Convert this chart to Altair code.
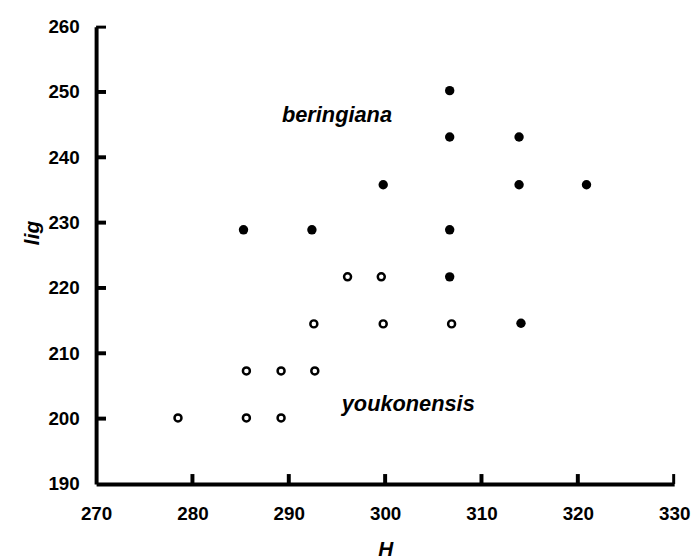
import altair as alt
import pandas as pd

# beringiana (filled circles)
ber_H = [306.7, 306.7, 313.9, 299.8, 313.9, 320.9, 285.3, 292.4, 306.7, 306.7, 314.1]
ber_lig = [250.2, 243.1, 243.1, 235.8, 235.8, 235.8, 228.9, 228.9, 228.9, 221.7, 214.6]

# youkonensis (open circles)
you_H = [296.1, 299.6, 292.6, 299.8, 306.9, 285.6, 289.2, 292.7, 278.5, 285.6, 289.2]
you_lig = [221.7, 221.7, 214.5, 214.5, 214.5, 207.3, 207.3, 207.3, 200.1, 200.1, 200.1]

x_ticks = [270, 280, 290, 300, 310, 320, 330]
y_ticks = [190, 200, 210, 220, 230, 240, 250, 260]

labels = ["beringiana", "youkonensis"]
label_H = [295.0, 302.4]
label_lig = [245.4, 201.1]

X_MIN, X_MAX, Y_MIN, Y_MAX = 270, 330, 190, 260
W, H = 584, 462
TICK_LEN_PX = 10
TICK_W_PX = 4

ber = pd.DataFrame({"H": ber_H, "lig": ber_lig})
you = pd.DataFrame({"H": you_H, "lig": you_lig})
lab = pd.DataFrame({"text": labels, "H": label_H, "lig": label_lig})

# inward tick marks built from the tick values (pixel sizes converted to data units)
ux = (X_MAX - X_MIN) / W
uy = (Y_MAX - Y_MIN) / H
rows = []
for v in x_ticks[1:]:
    rows.append({"a": v - TICK_W_PX / 2 * ux, "a2": min(v + TICK_W_PX / 2 * ux, X_MAX + TICK_W_PX / 4 * ux),
                 "b": Y_MIN, "b2": Y_MIN + TICK_LEN_PX * uy})
for v in y_ticks[1:]:
    rows.append({"a": X_MIN, "a2": X_MIN + TICK_LEN_PX * ux,
                 "b": max(v - TICK_W_PX / 2 * uy, Y_MIN), "b2": min(v + TICK_W_PX / 2 * uy, Y_MAX + TICK_W_PX / 4 * uy)})
ticks = pd.DataFrame(rows)

xs = alt.Scale(domain=[X_MIN, X_MAX], nice=False, zero=False)
ys = alt.Scale(domain=[Y_MIN, Y_MAX], nice=False, zero=False)

FONT = "Liberation Sans"

x_axis = alt.Axis(
    values=x_ticks, format="d", title="H", labelFlush=False, labelOverlap=False,
    labelPadding=21, domainWidth=4, domainColor="black", ticks=False, grid=False,
    titleY=72, titleBaseline="alphabetic",
)
y_axis = alt.Axis(
    values=y_ticks, format="d", title="lig", labelFlush=False, labelOverlap=False,
    labelPadding=17, domainWidth=4, domainColor="black", ticks=False, grid=False,
    titleX=-64, titleY=208, titleAngle=270,
    titleAlign="center", titleBaseline="middle",
)

tick_layer = alt.Chart(ticks).mark_rect(color="black", opacity=1).encode(
    x=alt.X("a:Q", scale=xs, axis=x_axis), x2="a2",
    y=alt.Y("b:Q", scale=ys, axis=y_axis), y2="b2",
)
filled = alt.Chart(ber).mark_circle(size=90, color="black", opacity=1).encode(
    x=alt.X("H:Q", scale=xs), y=alt.Y("lig:Q", scale=ys)
)
opened = alt.Chart(you).mark_point(size=50, filled=False, color="black", strokeWidth=2.5, opacity=1).encode(
    x=alt.X("H:Q", scale=xs), y=alt.Y("lig:Q", scale=ys)
)
texts = alt.Chart(lab).mark_text(
    font=FONT, fontWeight="bold", fontStyle="italic", fontSize=22, color="black",
    align="center", baseline="alphabetic"
).encode(x=alt.X("H:Q", scale=xs), y=alt.Y("lig:Q", scale=ys), text="text:N")

chart = alt.layer(tick_layer, filled, opened, texts).properties(
    width=W, height=H,
    autosize=alt.AutoSizeParams(type="none"),
    padding={"left": 89, "top": 16, "right": 17, "bottom": 73},
).configure_view(stroke=None).configure_axis(
    labelFont=FONT, labelFontWeight="bold", labelFontSize=19, labelColor="black",
    titleFont=FONT, titleFontWeight="bold", titleFontStyle="italic", titleFontSize=21,
    titleColor="black",
)

chart.save("out.html", embed_options={"renderer": "svg", "actions": False})
